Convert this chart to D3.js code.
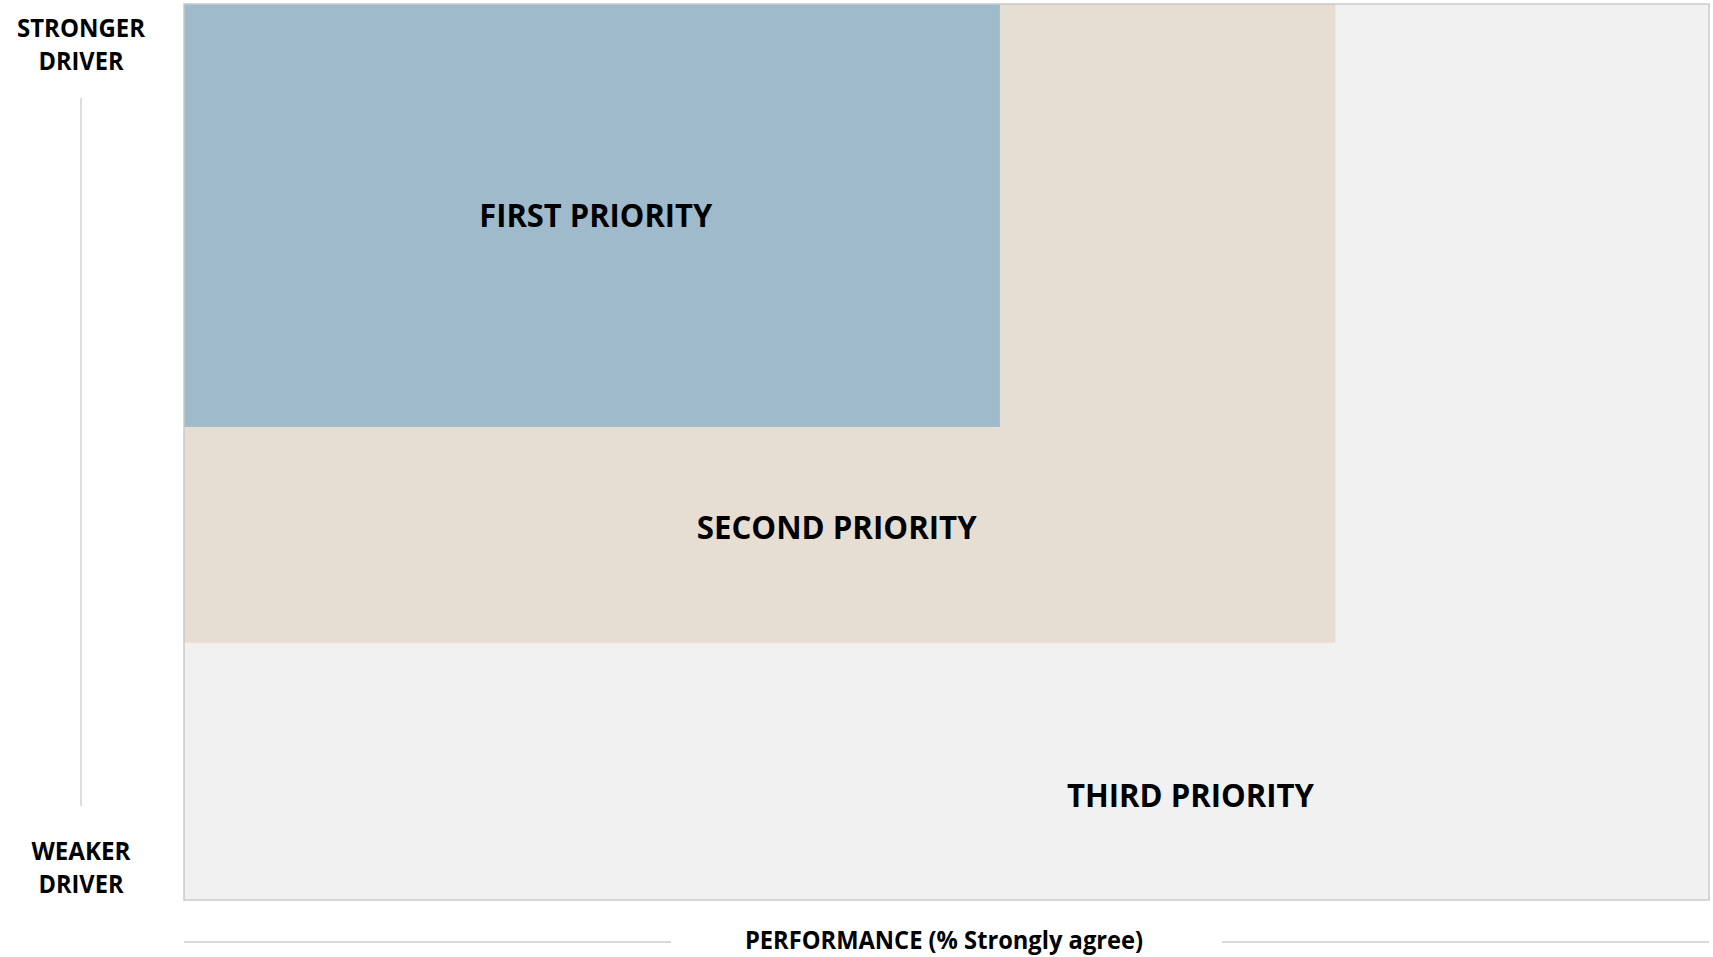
<!DOCTYPE html>
<html>
<head>
<meta charset="utf-8">
<script src="https://cdn.jsdelivr.net/npm/d3@7"></script>
<style>
  html, body { margin: 0; padding: 0; background: #ffffff; }
  svg { display: block; }
  text { font-family: "Open Sans", "Noto Sans", sans-serif; font-weight: 700; fill: #000; }
</style>
</head>
<body>
<svg id="chart" width="1713" height="957"></svg>
<script>
// ---- data (in % units of the performance / driver-strength axes) ----
const regions = ["THIRD PRIORITY", "SECOND PRIORITY", "FIRST PRIORITY"];
const regionXMax = [100, 75.5, 53.5];     // performance upper bound of each zone
const regionYMin = [0, 28.7, 52.8];        // driver-strength lower bound of each zone
const labelX = [66.0, 42.8, 27.0];         // label anchor (performance %)
const labelY = [10.4, 40.3, 75.1];         // label baseline (driver strength %)
const regionColors = ["#F1F1F1", "#E7DED3", "#9FBACB"];
const xTitle = "PERFORMANCE (% Strongly agree)";
const yTopLabel = ["STRONGER", "DRIVER"];
const yBottomLabel = ["WEAKER", "DRIVER"];

const svg = d3.select("#chart");
const plot = { left: 184, right: 1709, top: 4, bottom: 900 };

const x = d3.scaleLinear().domain([0, 100]).range([plot.left, plot.right]);
const y = d3.scaleLinear().domain([0, 100]).range([plot.bottom, plot.top]);

// zones
svg.append("g").selectAll("rect")
  .data(regions)
  .join("rect")
  .attr("x", x(0))
  .attr("y", y(100))
  .attr("width", (d, i) => x(regionXMax[i]) - x(0))
  .attr("height", (d, i) => y(regionYMin[i]) - y(100))
  .attr("fill", (d, i) => regionColors[i]);

// plot border
svg.append("rect")
  .attr("x", x(0)).attr("y", y(100))
  .attr("width", x(100) - x(0)).attr("height", y(0) - y(100))
  .attr("fill", "none").attr("stroke", "#c9c9c9").attr("stroke-width", 1.5);

// zone labels
const labelWidths = [247, 280, 233];
svg.append("g").selectAll("text")
  .data(regions)
  .join("text")
  .attr("x", (d, i) => x(labelX[i]))
  .attr("y", (d, i) => y(labelY[i]))
  .attr("text-anchor", "middle")
  .attr("font-size", 33)
  .attr("textLength", (d, i) => labelWidths[i])
  .attr("lengthAdjust", "spacingAndGlyphs")
  .text(d => d);

// y-axis side labels
const sideX = 81;
function sideLabel(lines, baselines, widths) {
  svg.append("g").selectAll("text")
    .data(lines)
    .join("text")
    .attr("x", sideX)
    .attr("y", (d, i) => baselines[i])
    .attr("text-anchor", "middle")
    .attr("font-size", 25)
    .attr("textLength", (d, i) => widths[i])
    .attr("lengthAdjust", "spacingAndGlyphs")
    .text(d => d);
}
sideLabel(yTopLabel, [37, 70], [128, 85]);
sideLabel(yBottomLabel, [860, 893], [99, 85]);

// vertical arrow-line
svg.append("line")
  .attr("x1", sideX).attr("x2", sideX)
  .attr("y1", 98).attr("y2", 806)
  .attr("stroke", "#bdbdbd").attr("stroke-width", 1);

// x title with side rules
svg.append("text")
  .attr("x", 944)
  .attr("y", 949)
  .attr("text-anchor", "middle")
  .attr("font-size", 25)
  .attr("textLength", 398)
  .attr("lengthAdjust", "spacingAndGlyphs")
  .text(xTitle);

svg.append("line")
  .attr("x1", x(0)).attr("x2", 671)
  .attr("y1", 942).attr("y2", 942)
  .attr("stroke", "#cccccc").attr("stroke-width", 1.5);
svg.append("line")
  .attr("x1", 1222).attr("x2", x(100))
  .attr("y1", 942).attr("y2", 942)
  .attr("stroke", "#cccccc").attr("stroke-width", 1.5);
</script>
</body>
</html>
